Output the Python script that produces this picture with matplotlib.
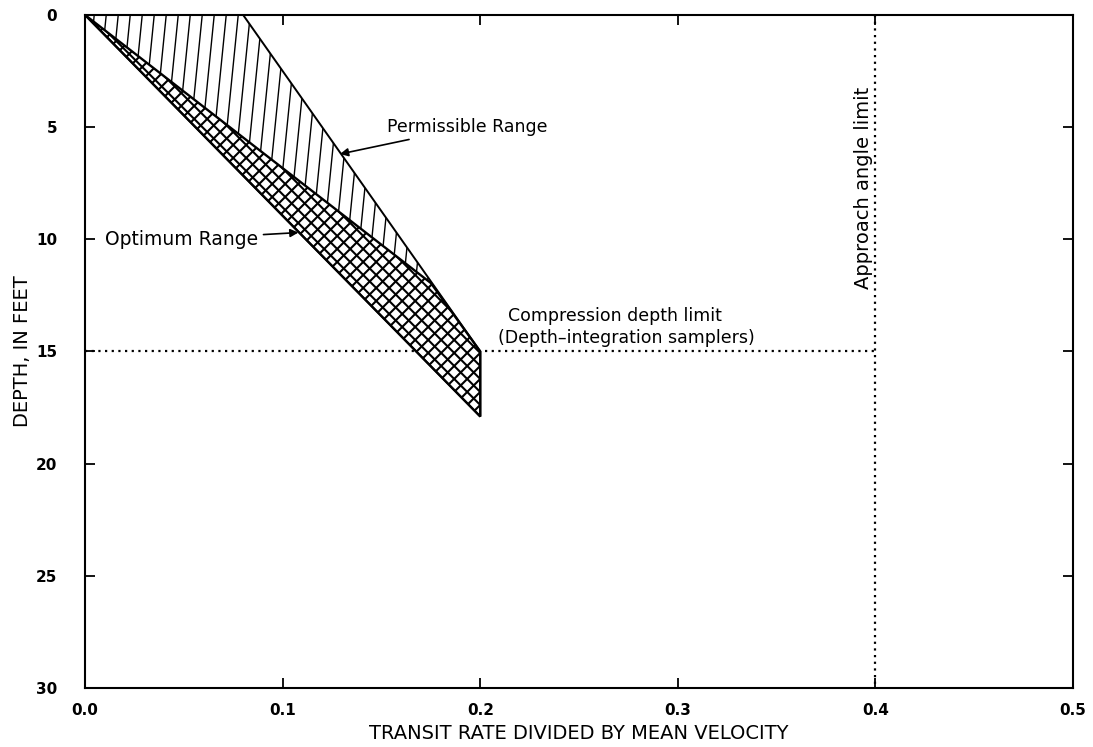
import numpy as np
import matplotlib
matplotlib.use("Agg")
import matplotlib.pyplot as plt
from matplotlib.patches import Polygon
from matplotlib.collections import LineCollection

# Region outlines (transit rate / mean velocity, depth in feet)
perm_x = [0.0, 0.08, 0.2, 0.2, 0.0]
perm_d = [0.0, 0.0, 15.0, 17.9, 0.0]
opt_x = [0.0, 0.175, 0.2, 0.2, 0.0]
opt_d = [0.0, 11.95, 15.0, 17.9, 0.0]

compression_depth = 15.0
approach_limit = 0.4

x_ticks = [0.0, 0.1, 0.2, 0.3, 0.4, 0.5]
y_ticks = [0, 5, 10, 15, 20, 25, 30]

plt.rcParams['font.family'] = ['DejaVu Sans']

fig = plt.figure(figsize=(10.93, 7.47), dpi=100)
ax = fig.add_axes([0.0778, 0.079, 0.904, 0.901])
ax.set_xlim(0, 0.5)
ax.set_ylim(30, 0)

# data units per pixel, used to lay out hand-drawn hatching
px_x = 0.5 / (0.904 * 1093)
px_y = 30 / (0.901 * 747)

# permissible range: slightly slanted vertical hatch
perm = Polygon(np.column_stack([perm_x, perm_d]), closed=True, fc='white',
               ec='none', zorder=2)
ax.add_patch(perm)
segs = []
for x0 in np.arange(-0.05, 0.25, 12 * px_x):
    segs.append([(x0, 0), (x0 - 0.1 * 404 * px_x, 18)])
lc = LineCollection(segs, colors='black', lw=1.0, zorder=3)
ax.add_collection(lc)
lc.set_clip_path(perm)

# optimum range: crosshatch
opt = Polygon(np.column_stack([opt_x, opt_d]), closed=True, fc='white',
              ec='none', zorder=4)
ax.add_patch(opt)
segs = []
step = 13 * px_x
for x0 in np.arange(-0.3, 0.5, step):
    segs.append([(x0, 0), (x0 + 30 * px_x / px_y, 30)])
    segs.append([(x0, 0), (x0 - 30 * px_x / px_y, 30)])
lc2 = LineCollection(segs, colors='black', lw=1.5, zorder=5)
ax.add_collection(lc2)
lc2.set_clip_path(opt)
ax.add_patch(Polygon(np.column_stack([opt_x, opt_d]), closed=True, fill=False,
                     ec='black', lw=1.7, zorder=6))
ax.add_patch(Polygon(np.column_stack([perm_x, perm_d]), closed=True, fill=False,
                     ec='black', lw=1.4, zorder=6))

# limits
ax.plot([0, approach_limit], [compression_depth, compression_depth],
        color='black', ls=(0, (1, 2)), lw=1.6, zorder=1)
ax.plot([approach_limit, approach_limit], [0, 30],
        color='black', ls=(0, (1, 2)), lw=1.6, zorder=1)

# annotations
arrow = dict(arrowstyle='-|>', color='black', lw=1.2, mutation_scale=12,
             shrinkA=2, shrinkB=0)
ax.annotate('Permissible Range', xy=(0.129, 6.2), xytext=(0.153, 5.0),
            fontsize=12.5, va='center', ha='left', arrowprops=arrow,
            zorder=8)
ax.annotate('Optimum Range', xy=(0.108, 9.7), xytext=(0.010, 10.0),
            fontsize=13.5, va='center', ha='left', arrowprops=arrow,
            zorder=8)
ax.text(0.214, 13.4, 'Compression depth limit', fontsize=12.5, va='center',
        ha='left')
ax.text(0.209, 14.4, '(Depth\u2013integration samplers)', fontsize=12.5,
        va='center', ha='left')
ax.text(0.394, 7.7, 'Approach angle limit', fontsize=14, rotation=90,
        va='center', ha='center')

ax.set_xticks(x_ticks)
ax.set_xticklabels([f"{v:.1f}" for v in x_ticks], fontsize=11, fontweight='bold')
ax.set_yticks(y_ticks)
ax.set_yticklabels([str(v) for v in y_ticks], fontsize=11, fontweight='bold')
ax.tick_params(direction='in', length=7, width=1.3, top=True, right=True,
               labeltop=False, labelright=False)
ax.tick_params(axis='x', pad=11)
ax.tick_params(axis='y', pad=20)
for s in ax.spines.values():
    s.set_linewidth(1.5)

ax.set_xlabel('TRANSIT RATE DIVIDED BY MEAN VELOCITY', fontsize=14, labelpad=4)
ax.set_ylabel('DEPTH, IN FEET', fontsize=14, labelpad=2.5)

fig.savefig('out.png', dpi=100)
